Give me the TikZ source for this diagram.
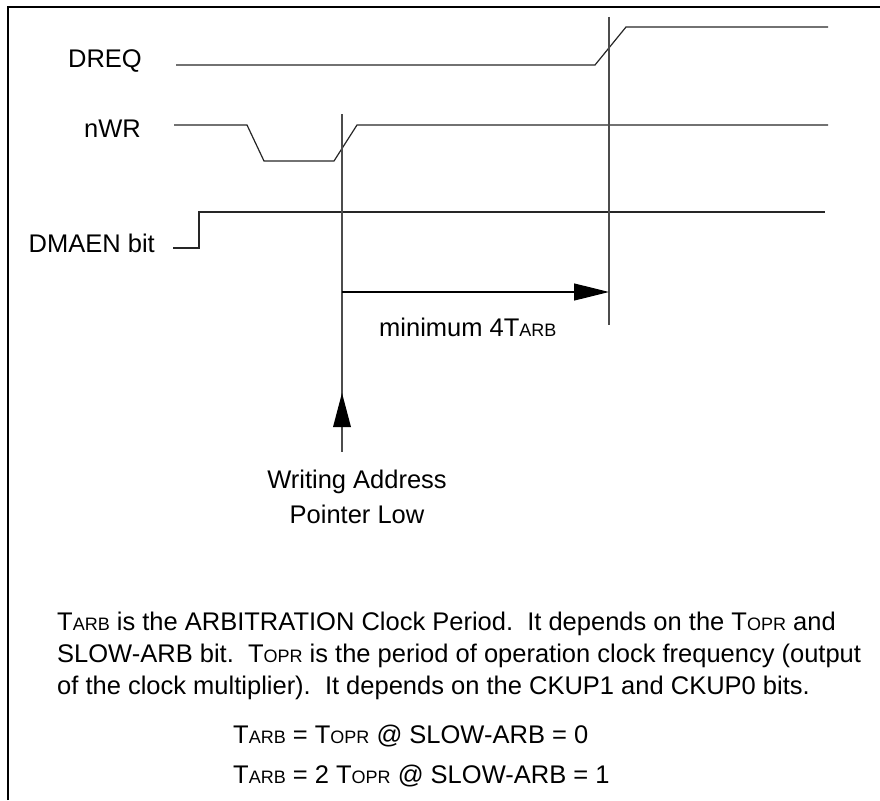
\documentclass[tikz,border=0pt]{standalone}
\usepackage{fontspec}
\setmainfont{Liberation Sans}
\usetikzlibrary{arrows.meta}
\newcommand\smc[1]{{\fontsize{18}{18}\selectfont #1}}
\tikzset{
  sig/.style={line width=1.2pt, black!85},
  marker/.style={line width=1.2pt, black!70},
  lbl/.style={inner sep=0pt, font=\fontsize{25.5}{25.5}\selectfont},
  frame/.style={line width=2pt, black},
  tipH/.style={-{Triangle[length=35pt,width=17pt]}},
}
\begin{document}
\begin{tikzpicture}[x=1pt,y=-1pt]
\useasboundingbox (0,0) rectangle (880,800);
% frame (top and left edges)
\draw[frame] (8,800) -- (8,7) -- (880,7);

% signal labels
\node[lbl, anchor=base east] (ldreq) at (142,67) {DREQ};
\node[lbl, anchor=base east] (lnwr) at (141,137) {nWR};
\node[lbl, anchor=base east] (ldma) at (155,252) {DMAEN bit};

% waveforms
\coordinate (d0) at (176,65);
\coordinate (d1) at (828,27);
\draw[sig] (d0) -- (595,65) -- (626,27) -- (d1);

\coordinate (n0) at (174,125);
\coordinate (n1) at (828,125);
\draw[sig] (n0) -- (247,125) -- (264,161) -- (334,161) -- (357,125) -- (n1);

\coordinate (m0) at (173,248);
\coordinate (m1) at (825,212);
\draw[sig] (m0) -- (199,248) -- (199,212) -- (m1);

% marker lines
\coordinate (v1top) at (342,114);
\coordinate (v1bot) at (342,452);
\coordinate (v1tip) at (342,393);
\draw[marker] (v1top) -- (v1bot);
\fill[black] (v1tip) -- (333,427) -- (351,427) -- cycle;

\coordinate (v2top) at (609,17);
\coordinate (v2bot) at (609,325);
\draw[marker] (v2top) -- (v2bot);

% interval arrow
\coordinate (h0) at (342,292);
\coordinate (h1) at (609,292);
\draw[line width=1.2pt, tipH] (h0) -- (h1);
\node[lbl, anchor=base west] (mintxt) at (379,336) {minimum 4T\smc{ARB}};

% annotation
\node[lbl, anchor=base] (wap) at (357,488) {Writing Address};
\node[lbl, anchor=base] (wap2) at (357,523) {Pointer Low};

% notes
\node[lbl, anchor=base west] (t1) at (57,630) {T\smc{ARB} is the ARBITRATION Clock Period.\ \ It depends on the T\smc{OPR} and};
\node[lbl, anchor=base west] (t2) at (57,662) {SLOW-ARB bit.\ \ T\smc{OPR} is the period of operation clock frequency (output};
\node[lbl, anchor=base west] (t3) at (57,694) {of the clock multiplier).\ \ It depends on the CKUP1 and CKUP0 bits.};
\node[lbl, anchor=base west] (f1) at (233,743) {T\smc{ARB} = T\smc{OPR} @ SLOW-ARB = 0};
\node[lbl, anchor=base west] (f2) at (233,783) {T\smc{ARB} = 2 T\smc{OPR} @ SLOW-ARB = 1};
\end{tikzpicture}
\end{document}
